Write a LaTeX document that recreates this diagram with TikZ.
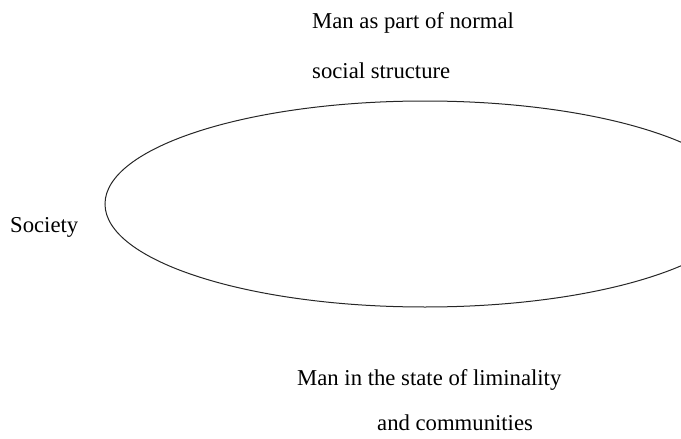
\documentclass[tikz,border=0pt]{standalone}
\usepackage{fontspec}
\setmainfont{Liberation Serif}
\usepackage{tikz}
\usetikzlibrary{positioning}
\tikzset{
	labeltext/.style={font=\fontsize{22.7}{26}\selectfont, inner sep=0pt, anchor=base west}
}
\begin{document}
\begin{tikzpicture}[x=1pt, y=-1pt]
      \useasboundingbox (0,0) rectangle (681,439);
      \clip (0,0) rectangle (681,439);
      % society ring
      \draw[line width=1pt, black!85] (425,204) ellipse [x radius=320, y radius=103];
      \node[labeltext] (society) at (10,232) {Society};
      % normal structure above
      \node[labeltext] (normal) at (312,28) {Man as part of normal};
      \node[labeltext] (structure) at (312,78) {social structure};
      % liminality below
      \node[labeltext] (liminal) at (297,385) {Man in the state of liminality};
      \node[labeltext] (communities) at (377,430) {and communities};
\end{tikzpicture}
\end{document}
